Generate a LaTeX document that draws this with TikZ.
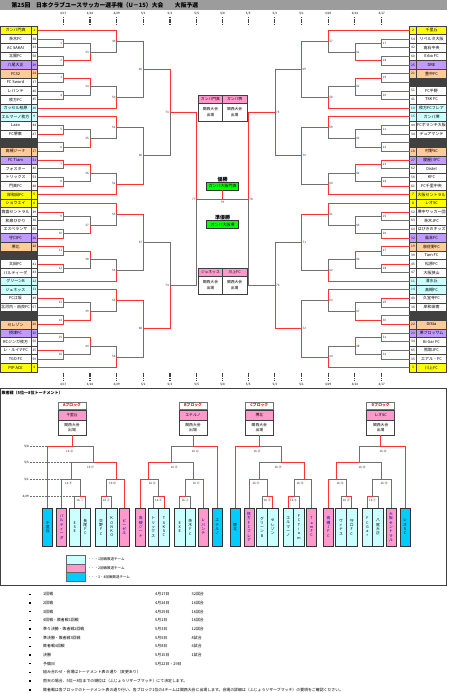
\documentclass[tikz,border=0pt]{standalone}
\usepackage{fontspec}
\setmainfont{Noto Sans CJK JP}

\definecolor{winred}{HTML}{FF3333}
\definecolor{losegray}{HTML}{707070}
\definecolor{barGray}{HTML}{9C9C9C}
\definecolor{cYel}{HTML}{FFFF00}
\definecolor{cCyan}{HTML}{CCFFFF}
\definecolor{cPur}{HTML}{C299FF}
\definecolor{cOra}{HTML}{FFCC99}
\definecolor{cBye}{HTML}{404040}
\definecolor{cPink}{HTML}{FF99CC}
\definecolor{cBlue}{HTML}{00CCFF}
\definecolor{cGreen}{HTML}{00FF00}

\newcommand\fsz[1]{\fontsize{#1}{#1}\selectfont}

% vertical text, one glyph a line
\def\tateend{TATEEND}
\def\tatestep#1{\ifx\tateend#1\else\hbox to 0pt{\hss#1\hss}\expandafter\tatestep\fi}
\newcommand\tate[1]{\vbox{\baselineskip=4.3pt\lineskiplimit=-20pt\tatestep#1\tateend}}

\tikzset{
  bline/.style={line width=0.7pt},
  win/.style={bline, draw=winred},
  lose/.style={bline, draw=losegray},
  cell/.style={draw=black!75, line width=0.45pt, inner sep=0pt, minimum height=8.65pt},
  namecell/.style={cell, minimum width=30.8pt, font=\fsz{4}},
  numcell/.style={cell, minimum width=6.7pt, font=\fsz{3.2}},
  mlab/.style={inner sep=0.4pt, font=\fsz{3}, text=black!80},
  datelab/.style={inner sep=0pt, font=\fsz{3}},
  datetick/.style={line width=1.1pt, black!75, dash pattern=on 1.2pt off 0.6pt},
  qhead/.style={cell, fill=cPink, minimum width=24.2pt, minimum height=8.3pt, font=\fsz{3.8}},
  qbody/.style={cell, minimum width=24.2pt, minimum height=17.7pt, align=center, font=\fontsize{3.8}{5.4}\selectfont},
  gbox/.style={draw=black!80, line width=0.7pt, fill=cGreen, minimum width=31.6pt, minimum height=7.6pt, inner sep=0pt, font=\fsz{4}},
  bhead/.style={draw=black!55, line width=0.8pt, minimum width=28pt, minimum height=7pt, inner sep=0pt, text=red, font=\fsz{3.8}\bfseries},
  bwin/.style={draw=black!75, line width=0.5pt, minimum width=28pt, inner sep=0pt, font=\fontsize{3.8}{5.2}\selectfont},
  teambox/.style={draw=black!80, line width=0.6pt, minimum height=38pt, inner sep=0pt, font=\fsz{3.8}},
  legbox/.style={draw=black!60, line width=0.6pt, minimum width=19pt, minimum height=8.7pt, inner sep=0pt},
  note/.style={anchor=west, inner sep=0pt, font=\fsz{3.9}},
  bul/.style={fill=black, inner sep=0pt, minimum size=1.5pt}
}

% one match: joint x, upper y, lower y, upper from x, lower from x, winner (1/2), number
\newcommand\mt[7]{%
  \pgfmathsetmacro\ym{(#2+#3)/2}%
  \pgfmathsetmacro\lx{#1+(\laboff)}%
  \ifnum#6=1
    \draw[lose] (#5,#3) -- (#1,#3) -- (#1,\ym);
    \draw[win] (#4,#2) -- (#1,#2) -- (#1,\ym);
  \else
    \draw[lose] (#4,#2) -- (#1,#2) -- (#1,\ym);
    \draw[win] (#5,#3) -- (#1,#3) -- (#1,\ym);
  \fi
  \node[mlab, anchor=\labanc] at (\lx,\ym) {#7};%
}

% one block of ten rows: block no., nine results
\def\setres#1#2#3#4#5#6#7#8#9{\def\wA{#1}\def\wB{#2}\def\wC{#3}\def\wD{#4}\def\wE{#5}\def\wF{#6}\def\wG{#7}\def\wH{#8}\def\wI{#9}}
\newcommand\block[2]{%
  \setres#2%
  \pgfmathsetmacro\yO{30.33+86.5*#1}%
  \pgfmathsetmacro\yA{\yO+8.65}\pgfmathsetmacro\yB{\yO+17.3}%
  \pgfmathsetmacro\yC{\yO+25.95}\pgfmathsetmacro\yD{\yO+34.6}%
  \pgfmathsetmacro\yE{\yO+43.25}\pgfmathsetmacro\yF{\yO+51.9}%
  \pgfmathsetmacro\yG{\yO+60.55}\pgfmathsetmacro\yH{\yO+69.2}%
  \pgfmathsetmacro\yI{\yO+77.85}%
  \pgfmathsetmacro\mA{\yO+12.975}\pgfmathsetmacro\mB{\yO+30.275}%
  \pgfmathsetmacro\mC{\yO+47.575}\pgfmathsetmacro\mD{\yO+64.875}%
  \pgfmathsetmacro\nA{\yO+21.625}\pgfmathsetmacro\nB{\yO+56.225}%
  \pgfmathsetmacro\pA{\yO+10.8125}\pgfmathsetmacro\pB{\yO+67.0375}%
  \pgfmathtruncatemacro\labA{16*\side+4*#1}%
  \pgfmathtruncatemacro\labB{33+8*\side+2*#1}%
  \pgfmathtruncatemacro\labC{49+8*\side+2*#1}%
  \pgfmathtruncatemacro\labD{65+4*\side+#1}%
  \mt{\xa}{\yA}{\yB}{\xe}{\xe}{\wA}{\the\numexpr\labA+1\relax}%
  \mt{\xa}{\yC}{\yD}{\xe}{\xe}{\wB}{\the\numexpr\labA+2\relax}%
  \mt{\xb}{\mA}{\mB}{\xa}{\xa}{\wC}{\labB}%
  \mt{\xc}{\yO}{\nA}{\xe}{\xb}{\wD}{\labC}%
  \mt{\xa}{\yE}{\yF}{\xe}{\xe}{\wE}{\the\numexpr\labA+3\relax}%
  \mt{\xa}{\yG}{\yH}{\xe}{\xe}{\wF}{\the\numexpr\labA+4\relax}%
  \mt{\xb}{\mC}{\mD}{\xa}{\xa}{\wG}{\the\numexpr\labB+1\relax}%
  \mt{\xc}{\nB}{\yI}{\xb}{\xe}{\wH}{\the\numexpr\labC+1\relax}%
  \mt{\xd}{\pA}{\pB}{\xc}{\xc}{\wI}{\labD}%
}

% one block of the 5th-8th tournament: letter, winner, teams, numbers
\def\setlabs#1,#2,#3,#4,#5,#6\relax{\def\lbA{#1}\def\lbB{#2}\def\lbC{#3}\def\lbD{#4}\def\lbE{#5}\def\lbF{#6}}
\newcommand\lblock[4]{%
  \setlabs#4\relax
  \pgfmathsetmacro\hx{\ox+\dr*29.3}%
  \node[bhead] (#1h) at (\hx,405.5) {#1ブロック};
  \node[bwin, fill=cPink, minimum height=9.3pt] (#1w) at (\hx,415.35) {#2};
  \node[bwin, minimum height=15pt, align=center] (#1k) at (\hx,427.5) {関西大会\\出場};
  % tree, losers first
  \draw[lose] ({\ox+\dr*51},462.7) -- ({\ox+\dr*51},446.7) -- (\hx,446.7);
  \draw[lose] ({\ox+\dr*29},479.3) -- ({\ox+\dr*29},462.7) -- ({\ox+\dr*51},462.7);
  \draw[lose] ({\ox+\dr*37.3},496.7) -- ({\ox+\dr*37.3},479.3) -- ({\ox+\dr*29},479.3);
  \draw[lose] ({\ox+\dr*64},496.7) -- ({\ox+\dr*64},479.3) -- ({\ox+\dr*74},479.3);
  \draw[lose] ({\ox+\dr*32},508) -- ({\ox+\dr*32},496.7) -- ({\ox+\dr*37.3},496.7);
  \draw[lose] ({\ox+\dr*69},508) -- ({\ox+\dr*69},496.7) -- ({\ox+\dr*64},496.7);
  \draw[win] (#1k.south) -- (\hx,446.7) -- ({\ox+\dr*5},446.7) -- ({\ox+\dr*5},508);
  \draw[win] ({\ox+\dr*74},479.3) -- ({\ox+\dr*74},462.7) -- ({\ox+\dr*51},462.7);
  \draw[win] ({\ox+\dr*19},508) -- ({\ox+\dr*19},479.3) -- ({\ox+\dr*29},479.3);
  \draw[win] ({\ox+\dr*81.6},508) -- ({\ox+\dr*81.6},479.3) -- ({\ox+\dr*74},479.3);
  \draw[win] ({\ox+\dr*42.65},508) -- ({\ox+\dr*42.65},496.7) -- ({\ox+\dr*37.3},496.7);
  \draw[win] ({\ox+\dr*58.35},508) -- ({\ox+\dr*58.35},496.7) -- ({\ox+\dr*64},496.7);
  % match numbers
  \node[mlab] (#1m1) at ({\ox+\dr*27},451) {\lbA};
  \node[mlab] (#1m2) at ({\ox+\dr*48},467) {\lbB};
  \node[mlab] (#1m3) at ({\ox+\dr*26},483.6) {\lbC};
  \node[mlab] (#1m4) at ({\ox+\dr*70},483.6) {\lbD};
  \node[mlab] (#1m5) at ({\ox+\dr*37.3},500.6) {\lbE};
  \node[mlab] (#1m6) at ({\ox+\dr*63.7},500.6) {\lbF};
  % teams
  \foreach \nm [count=\k from 0] in {#3} {
    \pgfmathsetmacro\tpos{{5,19,32,42.65,58.35,69,81.6}[\k]}
    \pgfmathsetmacro\tw{{10,10,10.65,10.65,10.65,10.65,10}[\k]}
    \pgfmathtruncatemacro\cc{{0,1,2,2,2,2,1}[\k]}
    \ifcase\cc \def\fc{cBlue}\def\tcol{black}\or \def\fc{cPink}\def\tcol{blue!70!black}\else \def\fc{cCyan}\def\tcol{black}\fi
    \node[teambox, minimum width=\tw pt, fill=\fc, text=\tcol] (#1t\k) at ({\ox+\dr*\tpos},527) {\expandafter\tate\expandafter{\nm}};
  }
}

\begin{document}
\begin{tikzpicture}[x=1pt, y=-1pt]
\useasboundingbox (0,0) rectangle (450,693);

% title bar
\fill[barGray] (0,0) rectangle (446.7,9.6);
\node[anchor=west, inner sep=0pt, font=\fsz{5.8}\bfseries] (title) at (11.5,4.9)
  {第25回\quad 日本クラブユースサッカー選手権（U－15）大会\quad\quad 大阪予選};

% round dates, top and bottom
\foreach \x/\mo/\dy [count=\k] in {63.3/4/17, 90/4/24, 116.7/4/29, 143.3/5/1, 170/5/3, 196.7/5/5, 222.5/5/8,
    248.2/5/5, 274.9/5/3, 301.5/5/1, 328.2/4/29, 354.9/4/24, 381.7/4/17} {
  \node[datelab] (dt\k) at (\x,14) {\mo/\dy};
  \draw[datetick] (\x,16.8) -- (\x,25.4);
  \draw[datetick] (\x,372.6) -- (\x,380.4);
  \node[datelab] (db\k) at (\x,385) {\mo/\dy};
}

% team list, left
\foreach \nm/\cl/\tno [count=\i from 0] in {
  ガンバ門真/cYel/1, 茨木FC/white/38, AC SAKAI/white/33, 北陽FC/white/58, 八尾大正/cPur/29,
  FC32/cOra/24, FC Sword/white/37, レパンテ/white/46, 枚方FC/white/45, ガッセル柏原/cCyan/16,
  エルマーノ枚方/cCyan/9, Lazo/white/44, FC堺東/white/47, {}/cBye/{}, 高槻ジーナ/cOra/17,
  FC Tiam/cPur/31, フォスター/white/40, トリックス/white/53, 門真FC/white/48, 岸和田FC/cYel/5,
  ショウエイ/cYel/6, 箕面セントラル/white/39, 和泉ひかり/white/36, エスペランサ/white/55, 守口FC/cPur/26,
  堺北/cOra/28, {}/cBye/{}, 太田FC/white/41, パルティーダ/white/43, グリーンB/cCyan/12,
  ジュネッス/cCyan/13, FC江坂/white/49, 北河内・由良FC/white/57, {}/cBye/{}, セレゾン/cOra/20,
  摂津FC/cPur/30, RCジンガ枚方/white/50, レ・ルイナFC/white/35, TGO FC/white/59, PIP ACE/cYel/4} {
  \node[namecell, fill=\cl] (L\i) at (15.6,{30.33+8.65*\i}) {\nm};
  \node[numcell, fill=\cl] (Ln\i) at (34.35,{30.33+8.65*\i}) {\tno};
}

% team list, right
\foreach \nm/\cl/\tno [count=\i from 0] in {
  千里丘/cYel/2, リベルタ大阪/white/54, 高石中央/white/42, Erba FC/white/60, DRE/cPur/25,
  豊中FC/cOra/21, {}/cBye/{}, FC平野/white/51, TSK FC/white/41, 枚方FCフレア/cCyan/10,
  ガンバ堺/cCyan/15, FCボランチ大阪/white/44, デュアマンテ/white/34, {}/cBye/{}, 村野SC/cOra/18,
  寝屋川FC/cPur/27, Distel/white/62, KFC/white/56, FC千里中央/white/61, 大阪セントラル/cYel/7,
  レオSC/cYel/8, 堺中サッカー団/white/52, 茨木JFC/white/63, はびきのキッズ/white/64, 島本FC/cPur/32,
  泉佐野FC/cOra/19, Tam FC/white/39, 松原FC/white/45, 大阪狭山/white/47, 清水丘/cCyan/11,
  高槻FC/cCyan/14, 久宝寺FC/white/40, 岸和田南/white/36, {}/cBye/{}, DiSta/cOra/22,
  堺ブロッサム/cPur/23, Bi Gar FC/white/34, 熊取JFC/white/65, エアル・FC/white/35, 川上FC/cYel/3} {
  \node[namecell, fill=\cl, minimum width=30pt] (R\i) at (431.5,{30.33+8.65*\i}) {\nm};
  \node[numcell, fill=\cl] (Rn\i) at (413,{30.33+8.65*\i}) {\tno};
}

% bracket, left half
\def\side{0}\def\xe{37.7}\def\xa{63.3}\def\xb{90}\def\xc{116.7}\def\xd{143.3}\def\xf{170}\def\xg{196.7}
\def\labanc{east}\def\laboff{-0.6}
\block{0}{222112121}
\block{1}{222112122}
\block{2}{122111121}
\block{3}{122111121}
\mt{\xf}{69.255}{155.755}{\xd}{\xd}{1}{73}
\mt{\xf}{242.255}{328.755}{\xd}{\xd}{2}{74}
\mt{\xg}{112.505}{285.505}{\xf}{\xf}{1}{77}

% bracket, right half
\def\side{1}\def\xe{409.5}\def\xa{381.7}\def\xb{354.9}\def\xc{328.2}\def\xd{301.5}\def\xf{274.9}\def\xg{248.2}
\def\labanc{west}\def\laboff{0.6}
\block{0}{122111121}
\block{1}{122112121}
\block{2}{122111121}
\block{3}{122112122}
\mt{\xf}{69.255}{155.755}{\xd}{\xd}{2}{75}
\mt{\xf}{242.255}{328.755}{\xd}{\xd}{2}{76}
\mt{\xg}{112.505}{285.505}{\xf}{\xf}{1}{78}

% Kansai qualifiers
\node[qhead] (qA) at (210.45,99.15) {ガンバ門真};
\node[qhead] (qB) at (234.65,99.15) {ガンバ堺};
\node[qbody] (qAb) at (210.45,112.15) {関西大会\\出場};
\node[qbody] (qBb) at (234.65,112.15) {関西大会\\出場};
\node[qhead] (qC) at (210.45,272.15) {ジュネッス};
\node[qhead] (qD) at (234.65,272.15) {川上FC};
\node[qbody] (qCb) at (210.45,285.15) {関西大会\\出場};
\node[qbody] (qDb) at (234.65,285.15) {関西大会\\出場};

% final
\node[inner sep=0pt, font=\fsz{5}\bfseries] (winT) at (222.5,179.2) {優勝};
\node[gbox] (champ) at (222.5,186.1) {ガンバ大阪門真};
\node[inner sep=0pt, font=\fsz{5}\bfseries] (runT) at (222.5,217.6) {準優勝};
\node[gbox] (second) at (222.5,224.5) {ガンバ大阪堺};
\draw[lose] (196.7,199.005) -- (248.2,199.005);
\draw[win] (196.7,199.005) -- (222.5,199.005) -- (champ.south);
\node[mlab, anchor=north] (m79) at (222.5,200.4) {79};

% 5th-8th place tournament
\draw[black!75, line width=0.6pt] (0.5,388.2) rectangle (446.5,585);
\node[anchor=west, inner sep=0pt, font=\fsz{4}\bfseries] (lowT) at (1.5,393.3) {敗者戦（5位～8位トーナメント）};
\foreach \y/\mo/\dy/\xr [count=\k] in {446.7/5/8/47.7, 462.7/5/5/71.7, 479.3/5/1/61.7, 496.7/4/29/74.7} {
  \node[datelab, anchor=east] (ld\k) at (29,\y) {\mo/\dy};
  \draw[losegray, densely dotted, line width=0.5pt] (29.5,\y) -- (\xr,\y);
}
\def\ox{42.7}\def\dr{1}
\lblock{A}{千里丘}{千里丘,パルティーダ,ESE,長尾FC,交野FC,KONKO,ビーゼル}{16 ㉑,16 ⑰,16 ⑨,16 ⑩,16 ①,16 ②}
\def\ox{222.3}\def\dr{-1}
\lblock{B}{エテルノ}{エテルノ,レパンテ,茨木FC,EXE,TSK SC,トリックス,高槻ジーナ}{16 ㉒,16 ⑱,16 ⑪,16 ⑫,16 ③,16 ④}
\def\ox{230}\def\dr{1}
\lblock{C}{堺北}{堺北,枚方FCフレア,グリーンB,セレゾン,エルマーノ,FC Tiam,Tam FC}{16 ㉓,16 ⑲,16 ⑬,16 ⑭,16 ⑤,16 ⑥}
\def\ox{410}\def\dr{-1}
\lblock{D}{レオSC}{レオSC,大阪セントラル,八尾大正,FC Gar,守口FC,ヴィナス,高槻JFC}{16 ㉔,16 ⑳,16 ⑮,16 ⑯,16 ⑦,16 ⑧}

% legend
\foreach \cl/\txt [count=\k] in {cCyan/1回戦敗退チーム, cPink/2回戦敗退チーム, cBlue/3・4回戦敗退チーム} {
  \node[legbox, fill=\cl] (lg\k) at (76.2,{550.85+8.7*\k}) {};
  \node[anchor=west, inner sep=0pt, font=\fsz{3.5}] (lgt\k) at (87.5,{550.85+8.7*\k}) {・・・\txt};
}

% schedule notes
\foreach \ta/\tb/\tcc [count=\k from 0] in {
  1回戦/4月17日/32試合, 2回戦/4月24日/16試合, 3回戦/4月29日/16試合,
  4回戦・敗者戦1回戦/5月1日/16試合, 準々決勝・敗者戦2回戦/5月3日/12試合,
  準決勝・敗者戦3回戦/5月5日/8試合, 敗者戦4回戦/5月8日/4試合, 決勝/5月15日/1試合,
  予備日/5月22日・29日/,
  組み合わせ・会場はトーナメント表の通り（変更あり）//,
  雨天の場合、5位～8位までの順位は（ふじょうリザーブマッチ）にて決定します。//,
  敗者戦は各ブロックのトーナメント表の通り行い、各ブロック1位の4チームは関西大会に出場します。会場の詳細は（ふじょうリザーブマッチ）の要項をご確認ください。//} {
  \node[bul] (b\k) at (30,{594.3+8.68*\k}) {};
  \node[note] (na\k) at (43,{594.3+8.68*\k}) {\ta};
  \node[note] (nb\k) at (155,{594.3+8.68*\k}) {\tb};
  \node[note] (nc\k) at (191.5,{594.3+8.68*\k}) {\tcc};
}
\end{tikzpicture}
\end{document}
